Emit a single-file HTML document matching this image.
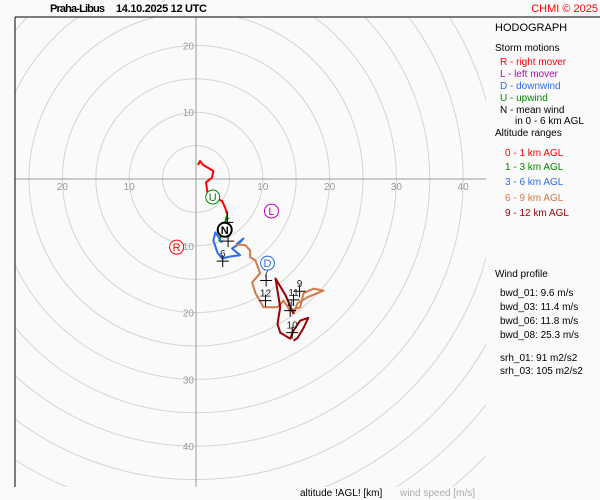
<!DOCTYPE html>
<html><head><meta charset="utf-8"><style>
html,body{margin:0;padding:0;width:600px;height:500px;overflow:hidden;background:#fafafa;font-family:"Liberation Sans",sans-serif;}
svg{display:block;}
svg text{font-family:"Liberation Sans",sans-serif;}
</style></head><body>
<svg id="c" width="600" height="500" xmlns="http://www.w3.org/2000/svg">
<rect width="600" height="500" fill="#fafafa"/>
<defs><clipPath id="clip"><rect x="15" y="17" width="471" height="470"/></clipPath></defs>
<g id="grid" clip-path="url(#clip)"></g>
<g id="axes"></g>
<g id="plot" clip-path="url(#clip)"></g>
<line x1="15" y1="17" x2="600" y2="17" stroke="#000" stroke-width="1"/>
<line x1="15" y1="17" x2="15" y2="487" stroke="#000" stroke-width="1"/>
<text x="50" y="12" font-size="11" font-weight="bold" textLength="55">Praha-Libus</text>
<text x="116" y="12" font-size="11" font-weight="bold" textLength="91">14.10.2025 12 UTC</text>
<text x="598" y="12" font-size="11" fill="#f00" text-anchor="end">CHMI © 2025</text>
<g font-size="10">
<text x="495" y="31" font-size="11">HODOGRAPH</text>
<text x="495" y="51">Storm motions</text>
<text x="500" y="65" fill="#f00">R - right mover</text>
<text x="500" y="77" fill="#b0b">L - left mover</text>
<text x="500" y="89" fill="#2a6ee8">D - downwind</text>
<text x="500" y="101" fill="#080">U - upwind</text>
<text x="500" y="113">N - mean wind</text>
<text x="515" y="124">in 0 - 6 km AGL</text>
<text x="495" y="136">Altitude ranges</text>
<text x="505" y="156" fill="#f00">0 - 1 km AGL</text>
<text x="505" y="170" fill="#080">1 - 3 km AGL</text>
<text x="505" y="185" fill="#2a6ee8">3 - 6 km AGL</text>
<text x="505" y="201" fill="#d07a4a">6 - 9 km AGL</text>
<text x="505" y="216" fill="#900">9 - 12 km AGL</text>
<text x="495" y="277">Wind profile</text>
<text x="500" y="296">bwd_01: 9.6 m/s</text>
<text x="500" y="310">bwd_03: 11.4 m/s</text>
<text x="500" y="324">bwd_06: 11.8 m/s</text>
<text x="500" y="338">bwd_08: 25.3 m/s</text>
<text x="500" y="361">srh_01: 91 m2/s2</text>
<text x="500" y="374">srh_03: 105 m2/s2</text>
</g>
<text x="300" y="496" font-size="10">altitude !AGL! [km]</text>
<text x="400" y="496" font-size="10" fill="#aaa">wind speed [m/s]</text>
<script>
const ringSpeeds=[5,10,15,20,25,30,35,40,45,50,55,60];
const tickValues=[10,20,30,40];
const seg01U=[0.3,0.6,1.1,2.6,2.4,1.5,1.7,2.7,3.9,4.4,4.7];
const seg01V=[2.1,2.7,2.1,1.2,0.2,-0.5,-2.0,-2.7,-3.3,-4.4,-5.3];
const seg13U=[4.7,4.2,3.5,3.9];
const seg13V=[-5.3,-7.1,-9.2,-9.5];
const seg36U=[3.9,2.9,2.6,3.2,3.9,5.1,6.6,5.4,6.3,7.1,6.0];
const seg36V=[-9.5,-8.0,-9.2,-11.0,-11.9,-11.6,-11.4,-10.4,-9.8,-8.9,-9.8];
const seg69U=[6.0,7.4,8.1,8.1,8.9,9.6,8.4,8.9,10.1,12.2,13.1,14.1,15.6,16.1,17.6,19.1,16.7,15.2,14.6];
const seg69V=[-9.8,-9.9,-10.7,-11.7,-12.2,-14.1,-15.5,-17.1,-19.2,-19.2,-18.2,-19.7,-19.2,-17.1,-16.4,-16.7,-17.7,-18.6,-20.2];
const seg912U=[14.6,13.4,11.9,12.6,12.2,12.6,14.1,14.6,15.6,16.8,16.1,15.2,14.6];
const seg912V=[-20.2,-17.4,-14.9,-19.2,-21.7,-23.0,-23.9,-22.7,-21.2,-20.8,-22.3,-23.8,-24.2];
const markerLabels=["1","3","6","7","12","9","11","8","10"];
const markerU=[4.7,4.8,4.0,10.5,10.4,15.5,14.6,14.1,14.4];
const markerV=[-6.5,-9.3,-12.3,-15.2,-18.2,-16.8,-18.1,-19.7,-23.0];
const stormLabels=["R","L","D","U","N"];
const stormU=[-2.9,11.3,10.7,2.5,4.3];
const stormV=[-10.2,-4.8,-12.6,-2.7,-7.6];
const stormColors=["#f00","#b0b","#2a6ee8","#080","#000"];
const segColors=["#f00","#080","#2a6ee8","#d07a4a","#900"];

const CX=196,CY=179,S=6.68;
const xs=u=>CX+u*S, ys=v=>CY-v*S;
const NS="http://www.w3.org/2000/svg";
function mk(t,a,p){const e=document.createElementNS(NS,t);for(const k in a)e.setAttribute(k,a[k]);p.appendChild(e);return e;}
const grid=document.getElementById('grid'),axes=document.getElementById('axes'),plot=document.getElementById('plot');
ringSpeeds.forEach(r=>{
 const c=mk('circle',{cx:CX,cy:CY,r:r*S,fill:'none',stroke:'#d4d4d4','stroke-width':1},grid);
 
 
});
mk('line',{x1:15,y1:CY,x2:486,y2:CY,stroke:'#999'},grid);
mk('line',{x1:CX,y1:17,x2:CX,y2:487,stroke:'#999'},grid);
tickValues.forEach(t=>{
 [xs(t),xs(-t)].forEach(x=>{
  if(x<40)return;
  const e=mk('text',{x:x,y:CY+11,'font-size':10,fill:'#999','text-anchor':'middle'},axes);e.textContent=t;
  
  
 });
 [ys(t),ys(-t)].forEach(y=>{
  if(y>480)return;
  const e=mk('text',{x:CX-2,y:y+4,'font-size':10,fill:'#999','text-anchor':'end'},axes);e.textContent=t;
  
  
 });
});
[[seg01U,seg01V],[seg13U,seg13V],[seg36U,seg36V],[seg69U,seg69V],[seg912U,seg912V]].forEach((s,i)=>{
 const pts=s[0].map((u,j)=>xs(u).toFixed(1)+','+ys(s[1][j]).toFixed(1)).join(' ');
 const p=mk('polyline',{points:pts,fill:'none',stroke:segColors[i],'stroke-width':2,'stroke-linejoin':'round'},plot);
 
 
});
markerLabels.forEach((l,i)=>{
 const x=xs(markerU[i]),y=ys(markerV[i]);
 const g=mk('g',{},plot);
 
 
 mk('path',{d:`M${x-6},${y}H${x+6}M${x},${y-6}V${y+6}`,stroke:'#000','stroke-width':1},g);
 const t=mk('text',{x:x,y:y-4,'font-size':10,'text-anchor':'middle',fill:'#222'},g);t.textContent=l;
});
stormLabels.forEach((l,i)=>{
 const x=xs(stormU[i]),y=ys(stormV[i]);
 const g=mk('g',{},plot);
 
 
 mk('circle',{cx:x,cy:y,r:7,fill:'#fff',stroke:stormColors[i],'stroke-width':l=='N'?2:1},g);
 const t=mk('text',{x:x,y:y+4,'font-size':11,'text-anchor':'middle',fill:stormColors[i],'font-weight':l=='N'?'bold':'normal'},g);t.textContent=l;
});
</script>
</svg>
</body></html>
